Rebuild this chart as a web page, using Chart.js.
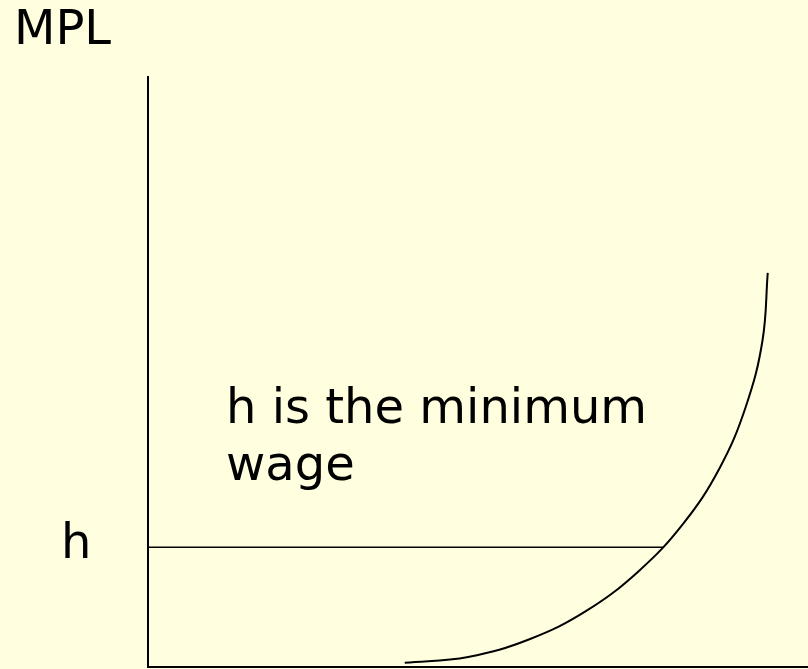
<!DOCTYPE html>
<html>
<head>
<meta charset="utf-8">
<title>MPL</title>
<script src="https://cdn.jsdelivr.net/npm/chart.js@4/dist/chart.umd.min.js"></script>
<style>
  html, body { margin: 0; padding: 0; background: #ffffe0; }
  #wrap { width: 808px; height: 669px; position: relative; }
</style>
</head>
<body>
<div id="wrap"><canvas id="mplChart"></canvas></div>
<script>
// labour (x) and marginal product (y) along the MPL curve
const laborValues = [38.9, 48.5, 57.8, 66.4, 74.3, 81.1, 86.6, 90.6, 93.1, 93.9];
const mplValues = [0.7, 1.7, 4.7, 9.5, 16.2, 24.3, 33.7, 44.2, 55.3, 66.8];

// minimum wage level and where it meets the curve
const wageLevel = 20.3;
const wageLine = [0, 78.2];

const axisMax = [100, 100];

const curvePoints = laborValues.map((x, i) => ({ x: x, y: mplValues[i] }));
const wagePoints = wageLine.map(x => ({ x: x, y: wageLevel }));

const FONT = '48px "DejaVu Sans", Verdana, sans-serif';

// text labels drawn on top of the chart
const labelPlugin = {
    id: 'labels',
    afterDraw(chart) {
        const ctx = chart.ctx;
        const yScale = chart.scales.y;
        ctx.save();
        ctx.fillStyle = '#000';
        ctx.font = FONT;
        ctx.textBaseline = 'alphabetic';
        ctx.fillText('MPL', 14, 44);
        ctx.fillText('h', 61, yScale.getPixelForValue(wageLevel) + 11);
        ctx.fillText('h is the minimum', 226, 423);
        ctx.fillText('wage', 226, 480);
        ctx.restore();
    }
};

new Chart(document.getElementById('mplChart'), {
    type: 'scatter',
    data: {
        datasets: [
            {
                data: curvePoints,
                showLine: true,
                borderColor: '#000',
                borderWidth: 2,
                pointRadius: 0,
                tension: 0.4,
                fill: false
            },
            {
                data: wagePoints,
                showLine: true,
                borderColor: '#000',
                borderWidth: 1.5,
                pointRadius: 0,
                fill: false
            }
        ]
    },
    options: {
        responsive: true,
        maintainAspectRatio: false,
        animation: false,
        layout: {
            padding: { left: 148, top: 77, right: 0, bottom: 2 }
        },
        plugins: {
            legend: { display: false },
            tooltip: { enabled: false }
        },
        scales: {
            x: {
                type: 'linear',
                min: 0,
                max: axisMax[0],
                grid: { display: false, drawTicks: false },
                ticks: { display: false },
                border: { display: true, color: '#000', width: 2 },
                afterFit: s => { s.height = 0; }
            },
            y: {
                type: 'linear',
                min: 0,
                max: axisMax[1],
                grid: { display: false, drawTicks: false },
                ticks: { display: false },
                border: { display: true, color: '#000', width: 2 },
                afterFit: s => { s.width = 0; }
            }
        }
    },
    plugins: [labelPlugin]
});
</script>
</body>
</html>
